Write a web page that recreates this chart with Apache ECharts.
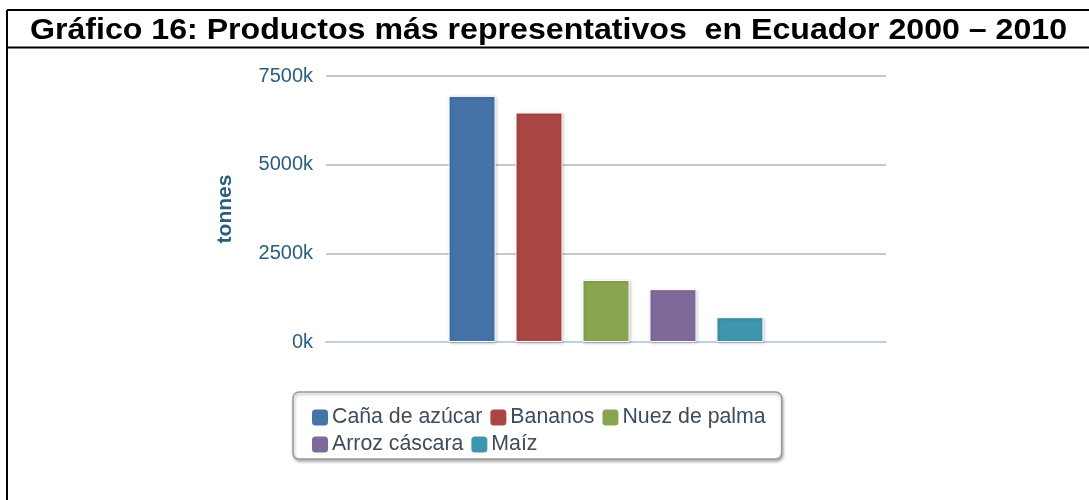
<!DOCTYPE html>
<html>
<head>
<meta charset="utf-8">
<title>Gráfico 16</title>
<script src="https://cdn.jsdelivr.net/npm/echarts@6/dist/echarts.min.js"></script>
<style>
  html, body { margin: 0; padding: 0; background: #ffffff; }
  #chart { width: 1089px; height: 500px; }
</style>
</head>
<body>
<div id="chart"></div>
<script>
// Production 2000–2010, thousands of tonnes
const categories = [''];
const productNames = ['Caña de azúcar', 'Bananos', 'Nuez de palma', 'Arroz cáscara', 'Maíz'];
const productionK = [6940, 6470, 1750, 1490, 700];
const productColors = ['#4572A7', '#AA4643', '#89A54E', '#80699B', '#3D96AE'];
const yTickValues = [0, 2500, 5000, 7500];
const titleText = 'Gráfico 16: Productos más representativos  en Ecuador 2000 – 2010';

const FONT = '"Liberation Sans", Arial, sans-serif';
const TITLE_FONT = 'bold 29px ' + FONT;

// stretch the heading so it spans the header row
const ctx = document.createElement('canvas').getContext('2d');
ctx.font = TITLE_FONT;
const titleScale = 1037 / ctx.measureText(titleText).width;

const chart = echarts.init(document.getElementById('chart'), null, { renderer: 'canvas' });

const series = productNames.map((name, i) => ({
  name: name,
  type: 'bar',
  data: [productionK[i]],
  barWidth: 47,
  barGap: '42.5%',
  itemStyle: {
    color: productColors[i],
    borderColor: '#ffffff',
    borderWidth: 1,
    shadowColor: 'rgba(0,0,0,0.22)',
    shadowBlur: 3,
    shadowOffsetX: 1,
    shadowOffsetY: 1
  },
  emphasis: { disabled: true }
}));

chart.setOption({
  backgroundColor: '#ffffff',
  animation: false,
  textStyle: { fontFamily: FONT },
  grid: { left: 326, right: 203, top: 76, bottom: 158, containLabel: false },
  xAxis: {
    type: 'category',
    data: categories,
    axisLine: { show: true, lineStyle: { color: '#C0D0E0', width: 2 } },
    axisTick: { show: false },
    axisLabel: { show: false }
  },
  yAxis: {
    type: 'value',
    min: 0,
    max: yTickValues[yTickValues.length - 1],
    interval: yTickValues[1] - yTickValues[0],
    name: 'tonnes',
    nameLocation: 'middle',
    nameGap: 90,
    nameTextStyle: { color: '#2b5d7c', fontSize: 21, fontWeight: 'bold', fontFamily: FONT },
    axisLine: { show: false },
    axisTick: { show: false },
    axisLabel: {
      color: '#2b5d7c',
      fontSize: 20,
      margin: 13,
      fontFamily: FONT,
      formatter: v => v + 'k'
    },
    splitLine: { show: true, lineStyle: { color: '#C8C8C8', width: 2 } }
  },
  legend: {
    left: 293,
    top: 392,
    width: 470,
    orient: 'horizontal',
    padding: [15, 16, 4, 17],
    itemWidth: 18,
    itemHeight: 18,
    itemGap: 6,
    icon: 'roundRect',
    backgroundColor: '#ffffff',
    borderColor: '#9a9a9a',
    borderWidth: 1.5,
    borderRadius: 6,
    shadowColor: 'rgba(0,0,0,0.3)',
    shadowBlur: 3,
    shadowOffsetX: 1,
    shadowOffsetY: 2,
    textStyle: { color: '#3e4b5a', fontSize: 21.3, fontFamily: FONT, padding: [0, 0, 0, -2] },
    selectedMode: false
  },
  graphic: [
    // document frame around the figure
    { type: 'line', shape: { x1: 7, y1: 10, x2: 1089, y2: 10 }, style: { stroke: '#000', lineWidth: 2 } },
    { type: 'line', shape: { x1: 7, y1: 10, x2: 7, y2: 500 }, style: { stroke: '#000', lineWidth: 2 } },
    { type: 'line', shape: { x1: 7, y1: 47.5, x2: 1089, y2: 47.5 }, style: { stroke: '#000', lineWidth: 2 } },
    {
      type: 'text',
      x: 30,
      y: 31,
      scaleX: titleScale,
      style: {
        text: titleText,
        font: TITLE_FONT,
        fill: '#000000',
        textAlign: 'left',
        textVerticalAlign: 'middle'
      }
    }
  ],
  series: series
});
</script>
</body>
</html>
